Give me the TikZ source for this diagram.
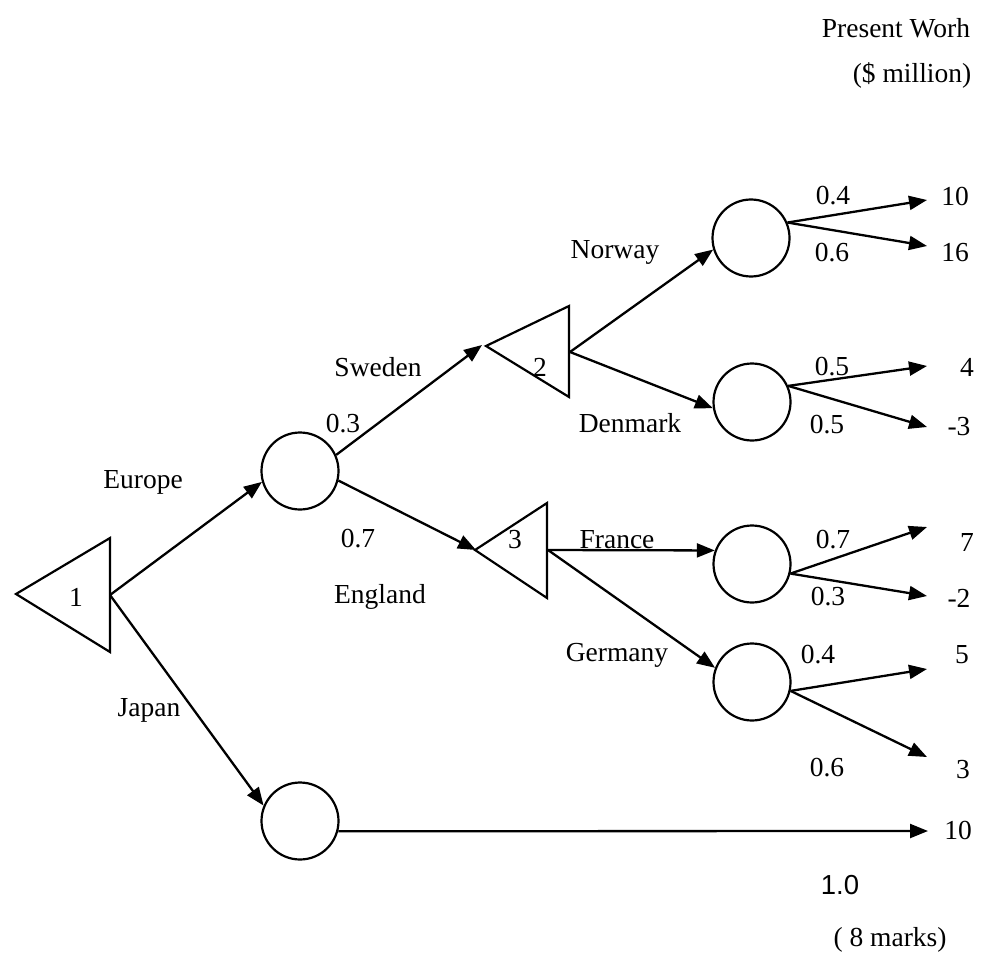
\documentclass[tikz,border=0pt]{standalone}
\usepackage{fontspec}
\setmainfont{Liberation Serif}
\newfontfamily\labelsans{Liberation Sans}
\usetikzlibrary{arrows.meta}

\begin{document}
\begin{tikzpicture}[x=0.5pt,y=-0.5pt,
  lbl/.style={font=\fontsize{13.75}{16}\selectfont, inner sep=0pt},
  chance/.style={circle, draw, line width=1.1pt, minimum size=38.5pt, inner sep=0pt},
  branch/.style={line width=1.15pt, -{Triangle[length=9pt,width=7pt]}},
  decision/.style={draw, line width=1.1pt, line join=miter}]

\useasboundingbox (0,0) rectangle (983,962);

% decision nodes (triangles pointing left)
\coordinate (d1tip) at (16,594);
\coordinate (d1top) at (110,538);
\coordinate (d1bot) at (110,652);
\coordinate (d1out) at (110,595);
\draw[decision] (d1tip) -- (d1top) -- (d1bot) -- cycle;

\coordinate (d2tip) at (486,346);
\coordinate (d2top) at (569,306);
\coordinate (d2bot) at (569,397);
\coordinate (d2out) at (570,352);
\coordinate (d2in) at (482,345);
\draw[decision] (d2tip) -- (d2top) -- (d2bot) -- cycle;

\coordinate (d3tip) at (475,550);
\coordinate (d3top) at (547,503);
\coordinate (d3bot) at (547,598);
\coordinate (d3out) at (548,550);
\coordinate (d3in) at (476,550);
\draw[decision] (d3tip) -- (d3top) -- (d3bot) -- cycle;

\node[lbl] (n1) at (76,597) {1};
\node[lbl] (n2) at (540,367) {2};
\node[lbl] (n3) at (515,540) {3};

% chance nodes
\node[chance] (cA) at (300,471) {};
\node[chance] (cB) at (300,821) {};
\node[chance] (cN) at (751,238) {};
\node[chance] (cD) at (752,402) {};
\node[chance] (cF) at (752,564) {};
\node[chance] (cG) at (752,682) {};

% end points of the outcome branches
\coordinate (eN1) at (927,200);
\coordinate (eN2) at (927,246);
\coordinate (eD1) at (927,366);
\coordinate (eD2) at (927,427);
\coordinate (eF1) at (927,527);
\coordinate (eF2) at (927,596);
\coordinate (eG1) at (927,669);
\coordinate (eG2) at (927,757);
\coordinate (eB)  at (928,831);

% branches
\draw[branch] (d1out) -- (cA.196);
\draw[branch] (d1out) -- (cB.157);
\draw[branch] (cA.24) -- (d2in);
\draw[branch] (cA.-14) -- (d3in);
\draw[branch] (d2out) -- (cN.197);
\draw[branch] (d2out) -- (cD.189);
\draw[branch] (d3out) -- (cF.160);
\draw[branch] (d3out) -- (cG.159);

\draw[branch] (cN.23) -- (eN1);
\draw[branch] (cN.23) -- (eN2);
\draw[branch] (cD.24) -- (eD1);
\draw[branch] (cD.24) -- (eD2);
\draw[branch] (cF.-14) -- (eF1);
\draw[branch] (cF.-14) -- (eF2);
\draw[branch] (cG.-13) -- (eG1);
\draw[branch] (cG.-13) -- (eG2);
\draw[branch] (cB.-15) -- (eB);

% header
\node[lbl] (hdr1) at (896,28) {Present Worh};
\node[lbl] (hdr2) at (912,75) {(\$ million)};

% branch names
\node[lbl] (lEurope)  at (143,482) {Europe};
\node[lbl] (lJapan)   at (149,710) {Japan};
\node[lbl] (lSweden)  at (378,367) {Sweden};
\node[lbl] (lEngland) at (380,597) {England};
\node[lbl] (lNorway)  at (615,252) {Norway};
\node[lbl] (lDenmark) at (630,423) {Denmark};
\node[lbl] (lFrance)  at (617,540) {France};
\node[lbl] (lGermany) at (617,655) {Germany};

% probabilities
\node[lbl] (pS)  at (343,424) {0.3};
\node[lbl] (pE)  at (358,539) {0.7};
\node[lbl] (pN1) at (833,196) {0.4};
\node[lbl] (pN2) at (832,253) {0.6};
\node[lbl] (pD1) at (832,367) {0.5};
\node[lbl] (pD2) at (827,425) {0.5};
\node[lbl] (pF1) at (833,540) {0.7};
\node[lbl] (pF2) at (828,597) {0.3};
\node[lbl] (pG1) at (818,655) {0.4};
\node[lbl] (pG2) at (827,768) {0.6};
\node[lbl, font=\labelsans\fontsize{13.75}{16}\selectfont] (pB) at (840,885) {1.0};

% present worth values
\node[lbl] (vN1) at (955,196) {10};
\node[lbl] (vN2) at (955,253) {16};
\node[lbl] (vD1) at (967,367) {4};
\node[lbl] (vD2) at (959,427) {-3};
\node[lbl] (vF1) at (967,542) {7};
\node[lbl] (vF2) at (959,598) {-2};
\node[lbl] (vG1) at (962,655) {5};
\node[lbl] (vG2) at (963,770) {3};
\node[lbl] (vB)  at (958,830) {10};

\node[lbl] (marks) at (890,940) {( 8 marks)};
\end{tikzpicture}
\end{document}
